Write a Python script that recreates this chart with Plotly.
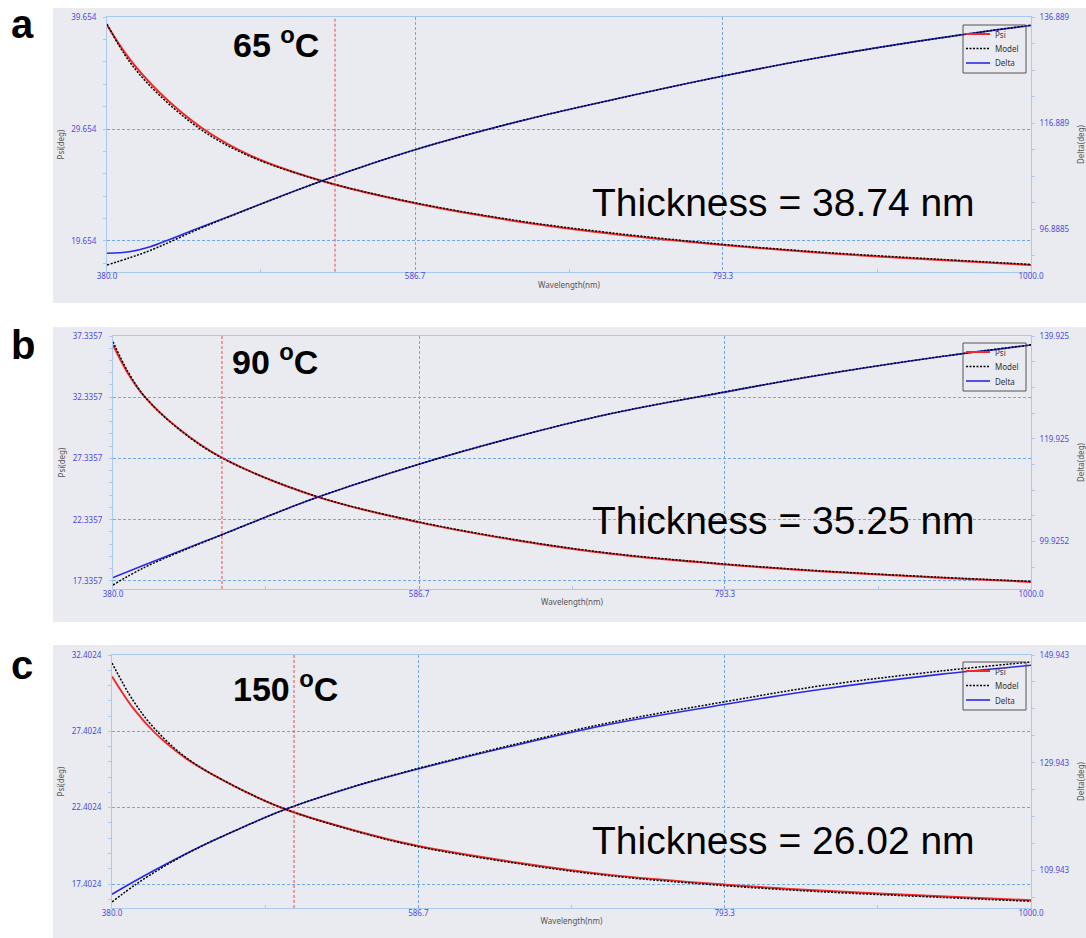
import plotly.graph_objects as go

W, H = 1086, 938

# ---------------- measured spectra: Psi / Delta vs wavelength ----------------
# (a) 65 °C
a_psi_nm = [380, 395, 415, 444, 476, 524, 586.7, 657, 717, 793.3, 858, 939, 1000]
a_psi_exp = [38.96, 35.95, 32.95, 29.72, 27.3, 25.02, 23.0, 21.35, 20.3, 19.27, 18.58, 17.93, 17.48]
a_psi_fit = [39.05, 35.7, 32.7, 29.52, 27.2, 25.02, 23.05, 21.42, 20.38, 19.33, 18.64, 17.99, 17.53]
a_del_nm = [380, 395, 409, 442, 456, 524, 586.7, 657, 717, 793.3, 858, 939, 1000]
a_del_exp = [92.36, 92.66, 93.6, 97.2, 98.7, 106.0, 111.9, 117.3, 121.2, 125.8, 129.3, 133.0, 135.35]
a_del_fit = [90.15, 91.5, 92.9, 97.0, 98.6, 106.0, 111.9, 117.3, 121.2, 125.8, 129.3, 133.0, 135.4]
a_cursor_nm = 533.0

# (b) 90 °C
b_psi_nm = [380, 390, 401.6, 424, 453.5, 517, 586.7, 655, 716, 793.3, 857, 938.5, 1000]
b_psi_exp = [36.6, 34.3, 32.34, 29.8, 27.4, 24.24, 22.12, 20.6, 19.55, 18.68, 18.13, 17.6, 17.26]
b_psi_fit = [36.87, 34.45, 32.36, 29.78, 27.38, 24.26, 22.16, 20.64, 19.6, 18.72, 18.17, 17.64, 17.3]
b_del_nm = [380, 401.6, 453.5, 517, 586.7, 655, 716, 793.3, 857, 938.5, 1000]
b_del_exp = [92.87, 95.36, 101.23, 108.4, 114.96, 120.5, 124.77, 129.0, 132.28, 135.87, 138.16]
b_del_fit = [91.43, 94.9, 101.2, 108.4, 114.96, 120.5, 124.8, 129.05, 132.33, 135.9, 138.2]
b_cursor_nm = 453.6

# (c) 150 °C
c_psi_nm = [380, 394.4, 409, 430.4, 461.8, 497, 541.9, 584.4, 655.2, 715.9, 794, 857.5, 938.5, 1000]
c_psi_exp = [31.0, 28.9, 27.3, 25.6, 23.85, 22.3, 20.96, 19.94, 18.78, 18.0, 17.36, 16.97, 16.6, 16.34]
c_psi_fit = [31.88, 29.4, 27.55, 25.65, 23.85, 22.3, 20.93, 19.89, 18.72, 17.94, 17.29, 16.9, 16.53, 16.27]
c_del_nm = [380, 396.7, 416.9, 439.4, 461.8, 497, 541.9, 584.4, 655.2, 715.9, 794, 857.5, 938.5, 1000]
c_del_exp = [105.56, 108.2, 111.2, 114.35, 117.2, 121.3, 125.4, 128.64, 133.4, 137.1, 140.8, 143.55, 146.35, 148.03]
c_del_fit = [104.13, 107.5, 111.0, 114.35, 117.2, 121.3, 125.45, 128.75, 133.6, 137.4, 141.3, 144.2, 146.95, 148.64]
c_cursor_nm = 502.8

# ---------------- axis ticks ----------------
x_ticks = [380.0, 586.7, 793.3, 1000.0]
x_ticktext = ["380.0", "586.7", "793.3", "1000.0"]
x_minor = [483.3, 690.0, 896.7]

a_psi_ticks = [19.654, 29.654, 39.654]
a_del_ticks = [96.8885, 116.889, 136.889]
b_psi_ticks = [17.3357, 22.3357, 27.3357, 32.3357, 37.3357]
b_del_ticks = [99.9252, 119.925, 139.925]
c_psi_ticks = [17.4024, 22.4024, 27.4024, 32.4024]
c_del_ticks = [109.943, 129.943, 149.943]

temps = ["65", "90", "150"]
thicknesses = ["38.74", "35.25", "26.02"]
letters = ["a", "b", "c"]
legend_names = ["Psi", "Model", "Delta"]

# ---------------- styling ----------------
BG = "#eaebf0"
AXIS = "#a9c9ee"
GRID = "#6fa8e6"
TICK = "#4b4bdc"
TITLE = "#555555"
RED = "#ee2a2a"
CURSOR = "#f04848"
BLUE = "#2a2ae6"
TICKFONT = dict(family="Noto Sans, DejaVu Sans", size=8, color=TICK)
TITLEFONT = dict(family="Noto Sans, DejaVu Sans", size=8, color=TITLE)
BIG = "Liberation Sans, Arial, sans-serif"
MODEL_DASH = "2px,1.5px"
legend_styles = [dict(color=RED, width=2), dict(color="black", width=1.5, dash=MODEL_DASH),
                 dict(color=BLUE, width=1.6)]

panels = [
    dict(psi=(a_psi_nm, a_psi_exp, a_psi_fit), dlt=(a_del_nm, a_del_exp, a_del_fit),
         psi_ticks=a_psi_ticks, del_ticks=a_del_ticks,
         psi_range=[16.88, 39.654], del_range=[88.89, 136.889], psi_minor=2, del_minor=5,
         cursor=a_cursor_nm, box=(107, 1031, 17.3, 271.7), bg=(8, 303),
         legend_top=25, temp_xy=(275.5, 42), thick_y=202, letter_xy=(22, 23.5)),
    dict(psi=(b_psi_nm, b_psi_exp, b_psi_fit), dlt=(b_del_nm, b_del_exp, b_del_fit),
         psi_ticks=b_psi_ticks, del_ticks=b_del_ticks,
         psi_range=[16.68, 37.3357], del_range=[90.65, 139.925], psi_minor=1, del_minor=5,
         cursor=b_cursor_nm, box=(113, 1031, 336, 589), bg=(327, 622),
         legend_top=343, temp_xy=(275, 359), thick_y=520, letter_xy=(23, 345)),
    dict(psi=(c_psi_nm, c_psi_exp, c_psi_fit), dlt=(c_del_nm, c_del_exp, c_del_fit),
         psi_ticks=c_psi_ticks, del_ticks=c_del_ticks,
         psi_range=[15.83, 32.4024], del_range=[103.0, 149.943], psi_minor=1, del_minor=5,
         cursor=c_cursor_nm, box=(112, 1031, 655, 908), bg=(645, 938),
         legend_top=662, temp_xy=(285, 686), thick_y=840, letter_xy=(22, 665)),
]

fig = go.Figure()
layout = {}

for i, p in enumerate(panels):
    n = i + 1
    xref = "x" if n == 1 else f"x{n}"
    yl = "y" if n == 1 else f"y{2 * n - 1}"
    yr = f"y{2 * n}"
    x0, x1, ytop, ybot = p["box"]

    psi_nm, psi_exp, psi_fit = p["psi"]
    del_nm, del_exp, del_fit = p["dlt"]

    fig.add_trace(go.Scatter(x=psi_nm, y=psi_exp, name="Psi", mode="lines", showlegend=False,
                             line=dict(color=RED, width=2, shape="spline"),
                             xaxis=xref, yaxis=yl))
    fig.add_trace(go.Scatter(x=psi_nm, y=psi_fit, name="Model", mode="lines", showlegend=False,
                             line=dict(color="black", width=1.5, dash=MODEL_DASH, shape="spline"),
                             xaxis=xref, yaxis=yl))
    fig.add_trace(go.Scatter(x=del_nm, y=del_exp, name="Delta", mode="lines", showlegend=False,
                             line=dict(color=BLUE, width=1.6, shape="spline"),
                             xaxis=xref, yaxis=yr))
    fig.add_trace(go.Scatter(x=del_nm, y=del_fit, name="Model", mode="lines", showlegend=False,
                             line=dict(color="black", width=1.5, dash=MODEL_DASH, shape="spline"),
                             xaxis=xref, yaxis=yr))

    xkey = "xaxis" if n == 1 else f"xaxis{n}"
    ylkey = "yaxis" if n == 1 else f"yaxis{2 * n - 1}"
    yrkey = f"yaxis{2 * n}"

    layout[xkey] = dict(
        domain=[x0 / W, x1 / W], anchor=yl, range=[380, 1000], automargin=False,
        tickmode="array", tickvals=x_ticks, ticktext=x_ticktext, tickfont=TICKFONT,
        ticks="", ticklabelstandoff=-3,
        showgrid=True, gridcolor=GRID, griddash="3px,2px", gridwidth=1,
        showline=True, mirror=True, linecolor=AXIS, linewidth=1.2, zeroline=False,
        title=dict(text="Wavelength(nm)", font=TITLEFONT, standoff=1),
        minor=dict(tickmode="array", tickvals=x_minor, ticks="inside", ticklen=3,
                   tickcolor=AXIS, showgrid=False),
    )
    layout[ylkey] = dict(
        domain=[1 - ybot / H, 1 - ytop / H], anchor=xref, range=p["psi_range"], automargin=False,
        tickmode="array", tickvals=p["psi_ticks"], ticktext=[str(v) for v in p["psi_ticks"]],
        tickfont=TICKFONT, ticks="outside", ticklen=3, tickcolor=AXIS, ticklabelstandoff=5,
        showgrid=True, gridcolor=GRID, griddash="3px,2px", gridwidth=1,
        showline=True, mirror=True, linecolor=AXIS, linewidth=1.2, zeroline=False,
        title=dict(text="Psi(deg)", font=TITLEFONT, standoff=5),
        minor=dict(tickmode="linear", tick0=p["psi_ticks"][0], dtick=p["psi_minor"],
                   ticks="outside", ticklen=3, tickcolor=AXIS, showgrid=False),
    )
    layout[yrkey] = dict(
        overlaying=yl, side="right", anchor=xref, range=p["del_range"], automargin=False,
        tickmode="array", tickvals=p["del_ticks"], ticktext=[str(v) for v in p["del_ticks"]],
        tickfont=TICKFONT, ticks="outside", ticklen=3, tickcolor=AXIS, ticklabelstandoff=3,
        showgrid=False, showline=False, zeroline=False,
        title=dict(text="Delta(deg)", font=TITLEFONT, standoff=18),
        minor=dict(tickmode="linear", tick0=p["del_ticks"][0], dtick=p["del_minor"],
                   ticks="outside", ticklen=3, tickcolor=AXIS, showgrid=False),
    )

    # grey panel background
    fig.add_shape(type="rect", xref="paper", yref="paper", layer="below",
                  x0=53 / W, x1=1, y0=1 - p["bg"][1] / H, y1=1 - p["bg"][0] / H,
                  fillcolor=BG, line_width=0)
    # fitting cursor
    fig.add_shape(type="line", xref=xref, yref=f"{yl} domain",
                  x0=p["cursor"], x1=p["cursor"], y0=0, y1=1,
                  line=dict(color=CURSOR, width=1, dash="3px,2px"))

    # boxed key in the upper-right corner
    lt = p["legend_top"]
    fig.add_shape(type="rect", xref="paper", yref="paper",
                  x0=963 / W, x1=1026 / W, y0=1 - (lt + 48) / H, y1=1 - lt / H,
                  line=dict(color="#555555", width=1), fillcolor="rgba(0,0,0,0)")
    for k, (name, style) in enumerate(zip(legend_names, legend_styles)):
        ry = lt + 9 + 14.5 * k
        fig.add_shape(type="line", xref="paper", yref="paper",
                      x0=966 / W, x1=990 / W, y0=1 - ry / H, y1=1 - ry / H, line=style)
        fig.add_annotation(xref="paper", yref="paper", x=993 / W, y=1 - ry / H,
                           xanchor="left", yanchor="middle", showarrow=False, text=name,
                           font=dict(family="Noto Sans, DejaVu Sans", size=8, color="#333333"))

    tx, ty = p["temp_xy"]
    fig.add_annotation(xref="paper", yref="paper", x=tx / W, y=1 - ty / H,
                       xanchor="center", yanchor="middle", showarrow=False,
                       text=f"<b>{temps[i]} <sup>o</sup>C</b>",
                       font=dict(family=BIG, size=34, color="black"))
    fig.add_annotation(xref="paper", yref="paper", x=783.5 / W, y=1 - p["thick_y"] / H,
                       xanchor="center", yanchor="middle", showarrow=False,
                       text=f"Thickness = {thicknesses[i]} nm",
                       font=dict(family=BIG, size=39, color="black"))
    lx, ly = p["letter_xy"]
    fig.add_annotation(xref="paper", yref="paper", x=lx / W, y=1 - ly / H,
                       xanchor="center", yanchor="middle", showarrow=False,
                       text=f"<b>{letters[i]}</b>",
                       font=dict(family=BIG, size=40, color="black"))

fig.update_layout(
    width=W, height=H, margin=dict(l=0, r=0, t=0, b=0, autoexpand=False),
    paper_bgcolor="white", plot_bgcolor=BG, showlegend=False,
    **layout,
)

fig.write_html("out.html")
